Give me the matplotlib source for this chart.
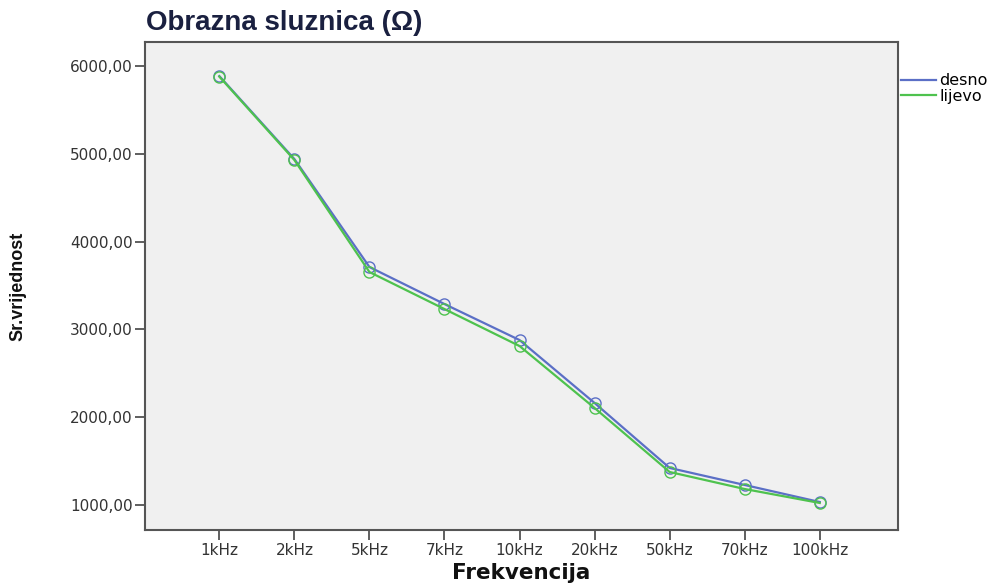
import matplotlib.pyplot as plt
from matplotlib.ticker import FuncFormatter

plt.rcParams['font.family'] = ['DejaVu Sans']

frekvencije = ['1kHz', '2kHz', '5kHz', '7kHz', '10kHz', '20kHz', '50kHz', '70kHz', '100kHz']
desno = [5886, 4941, 3711, 3289, 2879, 2162, 1422, 1228, 1034]
lijevo = [5880, 4930, 3654, 3232, 2811, 2105, 1376, 1182, 1023]

fig = plt.figure(figsize=(10.03, 5.85), dpi=100)
ax = fig.add_axes([0.1446, 0.094, 0.7505, 0.834])
ax.set_facecolor('#f0f0f0')

x = list(range(len(frekvencije)))
ax.plot(x, desno, color='#5b6fc6', lw=1.6, marker='o', ms=8, mfc='none', mew=1.0, label='desno')
ax.plot(x, lijevo, color='#4ec24e', lw=1.6, marker='o', ms=8, mfc='none', mew=1.0, label='lijevo')

ax.set_xlim(-0.99, 9.04)
ax.set_ylim(715, 6273)
ax.set_xticks(x)
ax.set_xticklabels(frekvencije)
ax.set_yticks([1000, 2000, 3000, 4000, 5000, 6000])
ax.yaxis.set_major_formatter(FuncFormatter(lambda v, p: f'{v:.2f}'.replace('.', ',')))
ax.tick_params(labelsize=11, colors='#444444', length=7, width=1.2, pad=2)
for t in ax.get_xticklabels() + ax.get_yticklabels():
    t.set_color('#333333')
for s in ax.spines.values():
    s.set_color('#555555')
    s.set_linewidth(1.5)

ax.set_xlabel('Frekvencija', fontsize=15.5, fontweight='bold', labelpad=4, color='#111111')
ax.set_ylabel('Sr.vrijednost', fontsize=13, fontweight='bold', fontfamily='Liberation Sans', color='#111111')
ax.yaxis.set_label_coords(-0.157, 0.5)
fig.text(0.146, 0.96, 'Obrazna sluznica (Ω)', fontsize=20, fontweight='bold', fontfamily='Liberation Sans',
         color='#1a2040', va='center')

ax.legend(loc='upper left', bbox_to_anchor=(1.0, 0.943), frameon=False, fontsize=11.5,
          handlelength=2.2, handletextpad=0.2, borderaxespad=0.1, borderpad=0.1,
          labelspacing=0.05, markerscale=0)

fig.savefig('out.png', dpi=100)
